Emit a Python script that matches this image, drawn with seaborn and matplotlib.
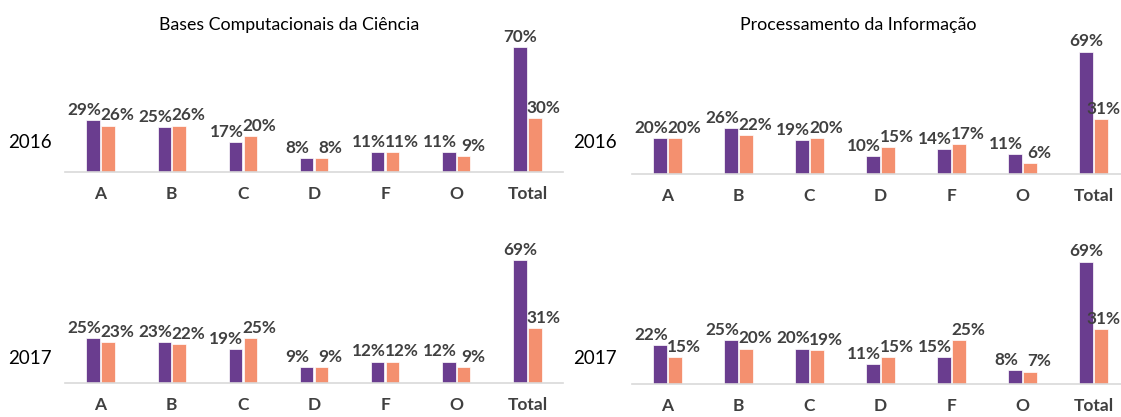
import numpy as np
import pandas as pd
import matplotlib
matplotlib.use("Agg")
import matplotlib.pyplot as plt
import seaborn as sns

categories = ["A", "B", "C", "D", "F", "O", "Total"]
series_names = ["s1", "s2"]

# Bases Computacionais da Ciência
bcc_2016_s1 = [29, 25, 17, 8, 11, 11, 70]
bcc_2016_s2 = [26, 26, 20, 8, 11, 9, 30]
bcc_2017_s1 = [25, 23, 19, 9, 12, 12, 69]
bcc_2017_s2 = [23, 22, 25, 9, 12, 9, 31]
# Processamento da Informação
pi_2016_s1 = [20, 26, 19, 10, 14, 11, 69]
pi_2016_s2 = [20, 22, 20, 15, 17, 6, 31]
pi_2017_s1 = [22, 25, 20, 11, 15, 8, 69]
pi_2017_s2 = [15, 20, 19, 15, 25, 7, 31]

titles = ["Bases Computacionais da Ciência", "Processamento da Informação"]
years = ["2016", "2017"]

sns.set_style("white")
plt.rcParams["font.family"] = ["Lato", "DejaVu Sans"]

purple = "#6a3d8f"
salmon = "#f4906f"
txt = "#404040"
grid = "#d9d9d9"

W, H = 1121, 417
fig = plt.figure(figsize=(W / 100, H / 100), dpi=100)

# axes rects in pixels: left, baseline y (from top), right, height
rects = {
    (0, 0): (65, 172, 563, 143),
    (0, 1): (632, 174, 1129, 142),
    (1, 0): (65, 383, 563, 143),
    (1, 1): (632, 384, 1129, 142),
}
data = {
    (0, 0): (bcc_2016_s1, bcc_2016_s2),
    (0, 1): (pi_2016_s1, pi_2016_s2),
    (1, 0): (bcc_2017_s1, bcc_2017_s2),
    (1, 1): (pi_2017_s1, pi_2017_s2),
}
year_y = [143, 358]
year_x = [30, 595]
title_x = [289, 858]

for (r, c), (x0, yb, x1, h) in rects.items():
    ax = fig.add_axes([x0 / W, (H - yb) / H, (x1 - x0) / W, h / H])
    s1, s2 = data[(r, c)]
    df = pd.DataFrame({
        "cat": categories * 2,
        "serie": [series_names[0]] * 7 + [series_names[1]] * 7,
        "val": s1 + s2,
    })
    sns.barplot(data=df, x="cat", y="val", hue="serie", order=categories,
                palette=[purple, salmon], saturation=1, width=0.42, gap=0.1,
                legend=False, ax=ax, edgecolor="white", linewidth=0.5)
    # value labels, pushed apart like the original chart does
    for k, cont in enumerate(ax.containers):
        for i, bar in enumerate(cont):
            v = cont.datavalues[i]
            if categories[i] == "Total":
                dx = 0 if k == 0 else (6 if c == 0 else 1.5)
            else:
                dx = -6.5 if k == 0 else 6.5
            ax.annotate(f"{v:.0f}%", (bar.get_x() + bar.get_width() / 2, v),
                        xytext=(dx, 1.5), textcoords="offset points",
                        ha="center", va="bottom", fontsize=12.3,
                        fontweight="bold", color=txt)
    ax.set_xlim(-0.5, 6.5)
    ax.set_ylim(0, 80)
    ax.set_yticks([])
    ax.set_xlabel("")
    ax.set_ylabel(years[r], rotation=0, fontsize=13.5, color="black",
                  ha="center", va="center")
    ax.yaxis.set_label_coords((year_x[c] - x0) / (x1 - x0),
                              (yb - year_y[r]) / h)
    for s in ["top", "left", "right"]:
        ax.spines[s].set_visible(False)
    ax.spines["bottom"].set_color(grid)
    ax.spines["bottom"].set_linewidth(1.2)
    ax.set_xticks(np.arange(-0.5, 7.0, 1.0), minor=True)
    ax.tick_params(axis="x", which="minor", length=6, color=grid, width=1)
    ax.tick_params(axis="x", which="major", length=0, pad=10,
                   labelsize=12.5, labelcolor=txt)
    for lab in ax.get_xticklabels():
        lab.set_fontweight("bold")
    if r == 0:
        ax.set_title(titles[c], x=(title_x[c] - x0) / (x1 - x0),
                     y=(yb - 30) / h, pad=0, fontsize=12.8, color="black")

fig.savefig("out.png", dpi=100)
